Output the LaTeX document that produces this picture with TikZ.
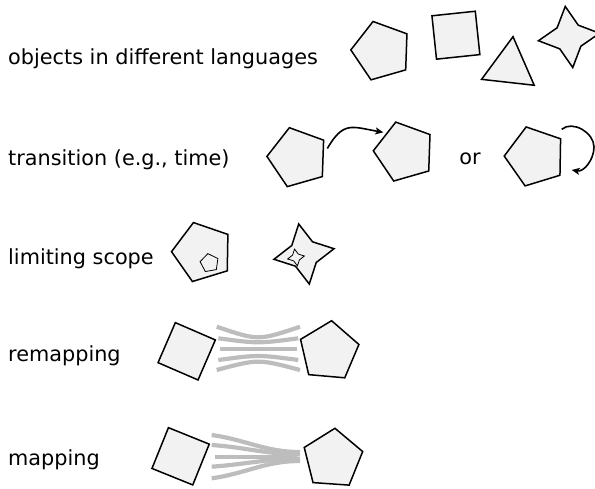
\documentclass[tikz,border=0pt]{standalone}
\usepackage{fontspec}
\setmainfont{DejaVu Sans}
\usetikzlibrary{shapes.geometric,arrows.meta}
\definecolor{shapefill}{RGB}{242,242,242}
\definecolor{stripgray}{RGB}{189,189,189}
\begin{document}
\begin{tikzpicture}[x=1pt,y=1pt,
  shapebase/.style={draw=black, fill=shapefill, line width=1.5pt,
    inner sep=0pt, outer sep=0pt, line join=miter},
  pent/.style={shapebase, regular polygon, regular polygon sides=5, minimum size=#1},
  tri/.style={shapebase, regular polygon, regular polygon sides=3, minimum size=#1},
  sq/.style={shapebase, rectangle, minimum width=#1, minimum height=#1},
  star4/.style={shapebase, star, star points=4, star point ratio=2.05, minimum size=#1},
  fineline/.style={line width=0.8pt},
  caption/.style={anchor=base west, inner sep=0pt, font=\fontsize{20.8}{24}\selectfont},
  flow/.style={line width=1.6pt, -{Stealth[length=8pt,width=7pt,inset=2pt]}},
  strip/.style={draw=stripgray, line width=4.2pt},
]
\useasboundingbox (0,0) rectangle (595,-489);

% row labels
\node[caption] (lab1) at (8,-64.3) {objects in different languages};
\node[caption] (lab2) at (8,-166) {transition (e.g., time)};
\node[caption] (lab3) at (8,-265) {limiting scope};
\node[caption] (lab4) at (8,-362) {remapping};
\node[caption] (lab5) at (8,-465) {mapping};

% objects in different languages
\node[pent=61.4, rotate=16] (o1) at (381.5,-51) {};
\node[sq=43.6, rotate=6] (o2) at (455.9,-35.2) {};
\node[tri=61.2, rotate=-6.4] (o3) at (509.6,-67.1) {};
\node[star4=61.6, rotate=7] (o4) at (569,-37) {};

% transition
\node[pent=62, rotate=16] (t1) at (297.9,-157.5) {};
\node[pent=62, rotate=16] (t2) at (404.3,-151.9) {};
\node[pent=62, rotate=17] (t3) at (535.2,-156.6) {};
\node[caption, anchor=base] (or) at (470,-164.5) {or};
\draw[flow] ([shift={(17:30.8)}]t1.center) to[out=60, in=170, looseness=1.4]
  ([shift={(137:28.7)}]t2.center);
\coordinate (loopS) at ([shift={(26.5,27.3)}]t3.center);
\coordinate (loopR) at ([shift={(58.8,9.6)}]t3.center);
\coordinate (loopE) at ([shift={(36.5,-13.4)}]t3.center);
\draw[flow] (loopS) to[out=40, in=90] (loopR) to[out=-90, in=-10] (loopE);

% limiting scope
\node[pent=62, rotate=17] (s1) at (202.5,-252.2) {};
\node[pent=19, rotate=10, fineline] (s2) at (209.5,-263) {};
\node[star4=61, rotate=10] (s3) at (304,-254) {};
\node[star4=17, rotate=10, fineline] (s4) at (296,-257.5) {};

% remapping: strands pinched together in the middle
\node[sq=43.6, rotate=-23.4] (r1) at (186.7,-351.3) {};
\node[pent=61.6, rotate=-5] (r2) at (328.9,-351.4) {};
\draw[strip] (216.7,-326.7) .. controls (258.3,-340.8) .. (300,-326.7);
\draw[strip] (218.3,-338.3) .. controls (258.3,-343.6) .. (298.3,-338.3);
\draw[strip] (220,-349.3) -- (296.7,-349.3);
\draw[strip] (218.3,-360) .. controls (258.3,-354.7) .. (298.3,-360);
\draw[strip] (216.7,-370) .. controls (258.3,-358.9) .. (300,-370);

% mapping: strands converging to one side
\node[sq=44, rotate=-22] (m1) at (180.6,-456.3) {};
\node[pent=61.6, rotate=-4] (m2) at (332.8,-459) {};
\draw[strip] (211.7,-435) to[out=-8, in=180] (300,-452);
\draw[strip] (211.7,-445) to[out=-4, in=180] (300,-454.2);
\draw[strip] (215,-456.6) -- (297,-456.6);
\draw[strip] (211.7,-466.7) to[out=4, in=180] (300,-458.8);
\draw[strip] (211.7,-478.3) to[out=8, in=180] (300,-461);
\end{tikzpicture}
\end{document}
